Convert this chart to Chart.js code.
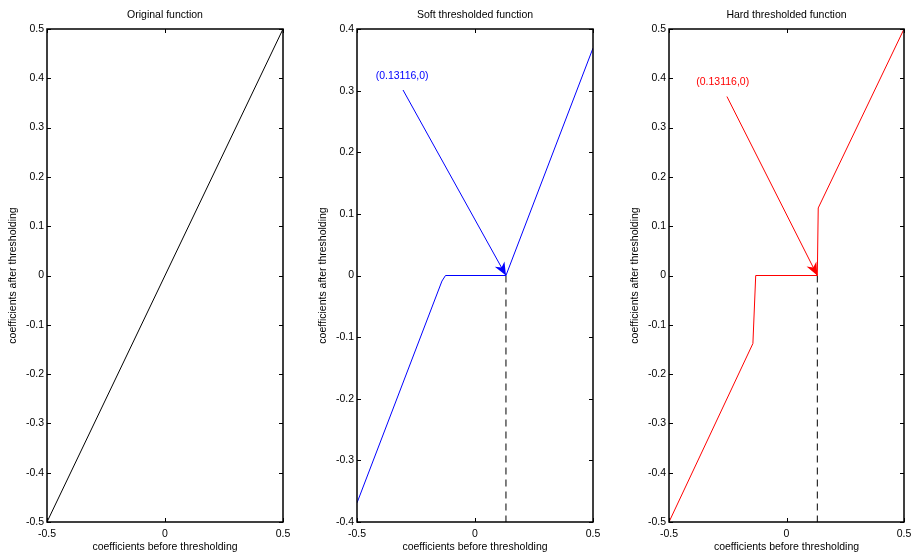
<!DOCTYPE html>
<html>
<head>
<meta charset="utf-8">
<script src="https://cdn.jsdelivr.net/npm/chart.js@4.4.1/dist/chart.umd.min.js"></script>
<style>
body { margin: 0; background: #fff; }
canvas { position: absolute; left: 0; top: 0; }
</style>
</head>
<body>
<canvas id="orig" width="912" height="558"></canvas>
<canvas id="soft" width="912" height="558"></canvas>
<canvas id="hard" width="912" height="558"></canvas>
<script>
// values
const threshold = 0.13116;

const origX = [-0.5, 0.5];
const origY = [-0.5, 0.5];

const softX = [-0.5, -0.14, -0.125, 0.13116, 0.5];
const softY = [-0.369, -0.009, 0, 0, 0.369];

const hardX = [-0.5, -0.143, -0.131, 0.13116, 0.135, 0.5];
const hardY = [-0.5, -0.138, 0, 0, 0.137, 0.5];

const xTicks = [-0.5, 0, 0.5];
const yTicksHalf = [-0.5, -0.4, -0.3, -0.2, -0.1, 0, 0.1, 0.2, 0.3, 0.4, 0.5];
const yTicksSoft = [-0.4, -0.3, -0.2, -0.1, 0, 0.1, 0.2, 0.3, 0.4];

const titles = ['Original function', 'Soft thresholded function', 'Hard thresholded function'];
const xLabel = 'coefficients before thresholding';
const yLabel = 'coefficients after thresholding';
const noteText = '(' + threshold + ',0)';

const FONT = "'Liberation Sans', Arial, Helvetica, sans-serif";

function pts(xs, ys) {
    return xs.map((x, i) => ({ x: x, y: ys[i] }));
}

// MATLAB look: box, inward ticks on every side, titles and the arrow note
var matlabAxes = {
    id: 'matlabAxes',
    afterDraw(chart, args, opts) {
        const ctx = chart.ctx;
        const a = chart.chartArea;
        const xs = chart.scales.x, ys = chart.scales.y;
        const L = Math.round(a.left), R = Math.round(a.right);
        const T = Math.round(a.top), B = Math.round(a.bottom);
        ctx.save();
        ctx.strokeStyle = '#000';
        ctx.lineWidth = 1.5;
        ctx.strokeRect(L, T, R - L, B - T);

        ctx.lineWidth = 1;
        ctx.beginPath();
        xs.ticks.forEach(t => {
            let px = Math.round(xs.getPixelForValue(t.value)) + 0.5;
            ctx.moveTo(px, B); ctx.lineTo(px, B - 4);
            ctx.moveTo(px, T); ctx.lineTo(px, T + 4);
        });
        ys.ticks.forEach(t => {
            let py = Math.round(ys.getPixelForValue(t.value)) + 0.5;
            ctx.moveTo(L, py); ctx.lineTo(L + 4, py);
            ctx.moveTo(R, py); ctx.lineTo(R - 4, py);
        });
        ctx.stroke();

        ctx.fillStyle = '#000';
        ctx.font = '10.5px ' + FONT;
        ctx.textAlign = 'center';
        ctx.textBaseline = 'middle';
        ctx.fillText(opts.title, (L + R) / 2, T - 14);
        ctx.fillText(xLabel, (L + R) / 2, B + 25);
        ctx.save();
        ctx.translate(L - 34, (T + B) / 2);
        ctx.rotate(-Math.PI / 2);
        ctx.fillText(yLabel, 0, 0);
        ctx.restore();

        let n = opts.note;
        if (n) {
            let tx = xs.getPixelForValue(n.tailX), ty = ys.getPixelForValue(n.tailY);
            let hx = xs.getPixelForValue(n.headX), hy = ys.getPixelForValue(n.headY);
            ctx.strokeStyle = n.color;
            ctx.fillStyle = n.color;
            ctx.beginPath();
            ctx.moveTo(tx, ty); ctx.lineTo(hx, hy);
            ctx.stroke();
            let ang = Math.atan2(hy - ty, hx - tx);
            let len = 13, wid = 5.5;
            ctx.save();
            ctx.translate(hx, hy);
            ctx.rotate(ang);
            ctx.beginPath();
            ctx.moveTo(0, 0);
            ctx.lineTo(-len, -wid);
            ctx.lineTo(-len * 0.7, 0);
            ctx.lineTo(-len, wid);
            ctx.closePath();
            ctx.fill();
            ctx.restore();
            ctx.textAlign = 'left';
            ctx.fillText(noteText, xs.getPixelForValue(n.textX), ys.getPixelForValue(n.textY));
        }
        ctx.restore();
    }
};

function makeChart(key, cfg) {
    const ctx = document.getElementById(key);
    let datasets = [{
        data: pts(cfg.xs, cfg.ys),
        borderColor: cfg.color,
        borderWidth: 1,
        pointRadius: 0,
        tension: 0
    }];
    if (cfg.dashed) {
        datasets.push({
            data: [{ x: threshold, y: 0 }, { x: threshold, y: cfg.yTicks[0] }],
            borderColor: '#000',
            borderWidth: 1,
            borderDash: [7, 5],
            pointRadius: 0
        });
    }
    return new Chart(ctx, {
        type: 'line',
        data: { datasets: datasets },
        options: {
            responsive: false,
            animation: false,
            events: [],
            layout: { autoPadding: false, padding: cfg.padding },
            plugins: {
                legend: { display: false },
                tooltip: { enabled: false },
                matlabAxes: { title: cfg.title, note: cfg.note }
            },
            scales: {
                x: {
                    type: 'linear',
                    min: -0.5, max: 0.5,
                    afterBuildTicks: s => { s.ticks = xTicks.map(v => ({ value: v })); },
                    afterFit: s => { s.height = 30; s.paddingLeft = 0; s.paddingRight = 0; },
                    grid: { display: false, drawTicks: false },
                    border: { display: false },
                    ticks: {
                        autoSkip: false, maxRotation: 0, padding: 6,
                        color: '#000', font: { family: FONT, size: 10.5 },
                        callback: v => String(+v.toFixed(2))
                    }
                },
                y: {
                    type: 'linear',
                    min: cfg.yTicks[0], max: cfg.yTicks[cfg.yTicks.length - 1],
                    afterBuildTicks: s => { s.ticks = cfg.yTicks.map(v => ({ value: v })); },
                    afterFit: s => { s.width = 40; s.paddingTop = 0; s.paddingBottom = 0; },
                    grid: { display: false, drawTicks: false },
                    border: { display: false },
                    ticks: {
                        autoSkip: false, padding: 3,
                        color: '#000', font: { family: FONT, size: 10.5 },
                        callback: v => String(+v.toFixed(2))
                    }
                }
            }
        },
        plugins: [matlabAxes]
    });
}

makeChart('orig', {
    xs: origX, ys: origY, color: '#000', yTicks: yTicksHalf, title: titles[0],
    padding: { left: 7, right: 629, top: 29, bottom: 6 }
});

makeChart('soft', {
    xs: softX, ys: softY, color: '#0000ff', yTicks: yTicksSoft, title: titles[1], dashed: true,
    padding: { left: 317, right: 319, top: 29, bottom: 6 },
    note: { color: '#0000ff', textX: -0.421, textY: 0.324, tailX: -0.305, tailY: 0.301, headX: threshold, headY: 0 }
});

makeChart('hard', {
    xs: hardX, ys: hardY, color: '#ff0000', yTicks: yTicksHalf, title: titles[2], dashed: true,
    padding: { left: 629, right: 8, top: 29, bottom: 6 },
    note: { color: '#ff0000', textX: -0.384, textY: 0.393, tailX: -0.2535, tailY: 0.363, headX: threshold, headY: 0 }
});
</script>
</body>
</html>
